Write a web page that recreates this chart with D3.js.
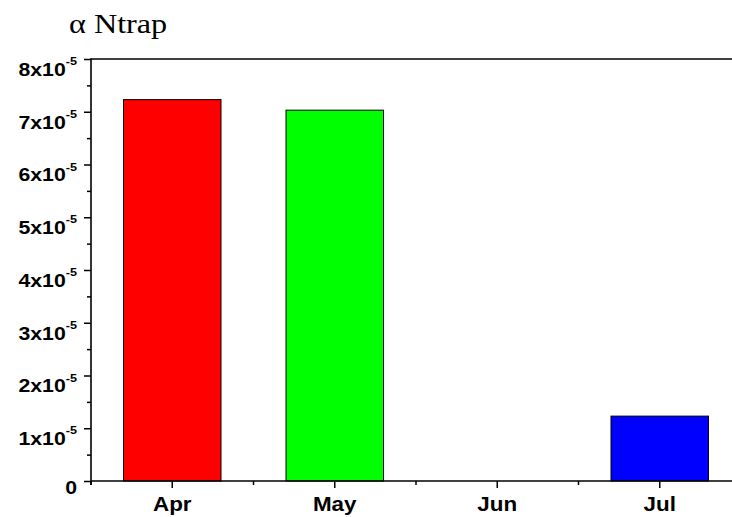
<!DOCTYPE html>
<html>
<head>
<meta charset="utf-8">
<script src="https://cdn.jsdelivr.net/npm/d3@7"></script>
<style>
  html, body { margin: 0; padding: 0; background: #fff; }
  svg { display: block; }
</style>
</head>
<body>
<svg id="chart" width="732" height="517"></svg>
<script>
// ---- data ----
const months = ["Apr", "May", "Jun", "Jul"];
const values = [7.23e-5, 7.03e-5, 0, 1.23e-5];
const barColors = ["#ff0000", "#00ff00", "#ffff00", "#0000ff"];
const yMajorTicks = [0, 1e-5, 2e-5, 3e-5, 4e-5, 5e-5, 6e-5, 7e-5, 8e-5];
const yMinorTicks = [0.5e-5, 1.5e-5, 2.5e-5, 3.5e-5, 4.5e-5, 5.5e-5, 6.5e-5, 7.5e-5];
const yTickMantissa = ["0", "1", "2", "3", "4", "5", "6", "7", "8"];
const yTickExponent = "-5";
const titleSymbol = "α";
const titleText = "Ntrap";

// ---- layout ----
const mLeft = 91, mRight = 741, mTop = 59, mBottom = 481;
const svg = d3.select("#chart");

const x = d3.scaleBand().domain(months).range([mLeft, mRight])
  .paddingInner(0.4).paddingOuter(0.2);
const y = d3.scaleLinear().domain([0, 8e-5]).range([mBottom, mTop]);

// bars
svg.append("g").selectAll("rect")
  .data(months.map((m, i) => ({ m, v: values[i], c: barColors[i] })).filter(d => d.v > 0))
  .join("rect")
  .attr("x", d => x(d.m))
  .attr("width", x.bandwidth())
  .attr("y", d => y(d.v))
  .attr("height", d => y(0) - y(d.v))
  .attr("fill", d => d.c)
  .attr("stroke", "#000")
  .attr("stroke-width", 1);

// top border
svg.append("line")
  .attr("x1", mLeft).attr("x2", 732)
  .attr("y1", y(8e-5)).attr("y2", y(8e-5))
  .attr("stroke", "#000").attr("stroke-width", 1.6);

// y axis major
const yAxisMajor = svg.append("g").attr("transform", `translate(${mLeft},0)`)
  .call(d3.axisLeft(y).tickValues(yMajorTicks).tickSize(7).tickFormat("").tickSizeOuter(0));
yAxisMajor.select(".domain").remove();
yAxisMajor.selectAll(".tick line").attr("stroke-width", 1.5);

const yAxisMinor = svg.append("g").attr("transform", `translate(${mLeft},0)`)
  .call(d3.axisLeft(y).tickValues(yMinorTicks).tickSize(4).tickFormat("").tickSizeOuter(0));
yAxisMinor.select(".domain").remove();
yAxisMinor.selectAll(".tick line").attr("stroke-width", 1.5);

// y axis line (extends slightly below zero)
svg.append("line")
  .attr("x1", mLeft).attr("x2", mLeft)
  .attr("y1", y(8e-5) - 0.8).attr("y2", y(0) + 4)
  .attr("stroke", "#000").attr("stroke-width", 1.6);

// x axis line
svg.append("line")
  .attr("x1", mLeft).attr("x2", 732)
  .attr("y1", y(0)).attr("y2", y(0))
  .attr("stroke", "#000").attr("stroke-width", 1.6);

// x ticks major (category centers)
const xAxis = svg.append("g").attr("transform", `translate(0,${mBottom})`)
  .call(d3.axisBottom(x).tickSize(7).tickFormat("").tickSizeOuter(0));
xAxis.select(".domain").remove();
xAxis.selectAll(".tick line").attr("stroke-width", 1.5);

// x minor ticks at band boundaries
const gap = (x.step() - x.bandwidth()) / 2;
svg.append("g").selectAll("line").data(months).join("line")
  .attr("x1", d => x(d) - gap).attr("x2", d => x(d) - gap)
  .attr("y1", mBottom).attr("y2", mBottom + 4)
  .attr("stroke", "#000").attr("stroke-width", 1.5);

// x labels
svg.append("g").selectAll("text").data(months).join("text")
  .attr("transform", d => `translate(${x(d) + x.bandwidth() / 2},${mBottom + 30}) scale(1.12,1)`)
  .attr("text-anchor", "middle")
  .attr("font-family", "Liberation Sans, Arial, sans-serif")
  .attr("font-weight", "bold")
  .attr("font-size", 20)
  .text(d => d);

// y labels
const yl = svg.append("g").selectAll("g").data(yMajorTicks).join("g")
  .attr("transform", d => `translate(77,${y(d)}) scale(1.15,1)`);
yl.each(function (d, i) {
  const g = d3.select(this);
  const t = g.append("text")
    .attr("text-anchor", "end")
    .attr("font-family", "Liberation Sans, Arial, sans-serif")
    .attr("font-weight", "bold")
    .attr("font-size", 18.5);
  if (d === 0) {
    t.attr("y", 12.5).text(yTickMantissa[i]);
  } else {
    t.attr("y", 17);
    t.append("tspan").text(yTickMantissa[i] + "x10");
    t.append("tspan").attr("font-size", 11).attr("dy", -11).text(yTickExponent);
  }
});

// title
const title = svg.append("text")
  .attr("transform", "translate(69,33) scale(1.15,1)")
  .attr("font-family", "Liberation Serif, Times New Roman, serif")
  .attr("font-size", 28);
title.append("tspan").text(titleSymbol);
title.append("tspan").text(" " + titleText);
</script>
</body>
</html>
